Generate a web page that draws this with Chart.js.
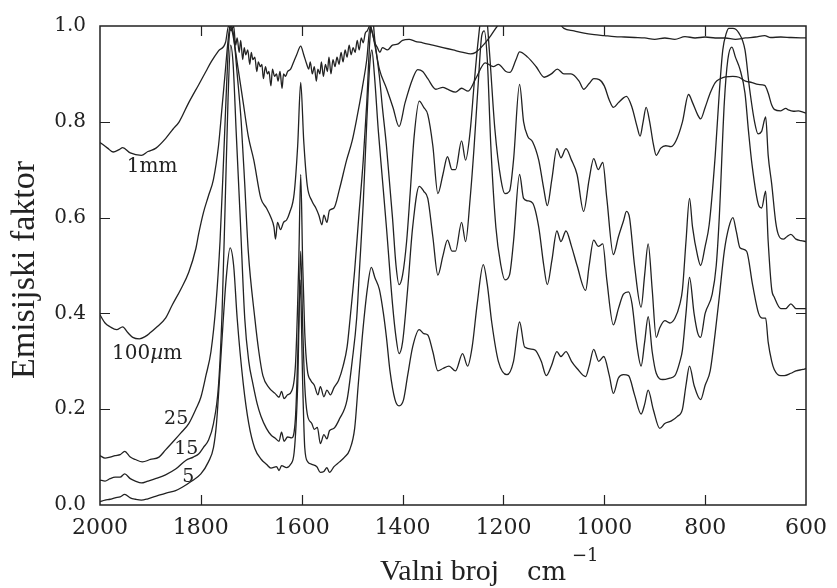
<!DOCTYPE html>
<html>
<head>
<meta charset="utf-8">
<script src="https://cdn.jsdelivr.net/npm/chart.js@4.4.1/dist/chart.umd.min.js"></script>
<style>
  body { margin: 0; background: #fff; }
  #wrap { width: 837px; height: 588px; }
</style>
</head>
<body>
<div id="wrap"><canvas id="myChart" width="837" height="588"></canvas></div>
<script>
// wavenumber (cm-1), emission factor
const curve1mm = [
	[2000,0.757],[1985,0.745],[1974,0.737],[1962,0.742],[1955,0.746],[1940,0.735],[1918,0.73],[1905,0.738],
	[1889,0.745],[1870,0.765],[1855,0.785],[1843,0.80],[1825,0.838],[1804,0.878],[1790,0.905],[1779,0.926],
	[1765,0.948],[1751,0.966],[1745,1.0],[1740,0.99],[1735,1.0],[1731,0.96],[1728,0.975],[1724,0.945],
	[1721,0.97],[1717,0.93],[1714,0.955],[1711,0.94],[1707,0.95],[1703,0.92],[1700,0.945],[1697,0.93],
	[1693,0.935],[1689,0.905],[1686,0.925],[1682,0.915],[1679,0.92],[1676,0.89],[1672,0.915],[1668,0.9],
	[1665,0.905],[1661,0.875],[1658,0.91],[1654,0.895],[1650,0.9],[1647,0.885],[1643,0.905],[1639,0.87],
	[1636,0.9],[1632,0.895],[1628,0.905],[1622,0.91],[1616,0.925],[1610,0.94],[1602,0.958],[1596,0.94],
	[1590,0.92],[1586,0.91],[1583,0.925],[1579,0.9],[1575,0.915],[1571,0.885],[1568,0.91],[1564,0.9],
	[1561,0.925],[1557,0.895],[1553,0.92],[1549,0.905],[1546,0.935],[1542,0.9],[1538,0.93],[1534,0.915],
	[1530,0.935],[1526,0.92],[1522,0.945],[1518,0.925],[1514,0.95],[1510,0.935],[1506,0.96],[1502,0.94],
	[1498,0.955],[1494,0.945],[1490,0.97],[1486,0.95],[1482,0.975],[1478,0.965],[1474,0.985],[1470,0.99],
	[1465,1.0],[1460,0.985],[1455,0.965],[1450,0.955],[1445,0.945],[1440,0.955],[1430,0.95],[1420,0.96],
	[1410,0.962],[1400,0.97],[1387,0.972],[1375,0.968],[1360,0.965],[1340,0.96],[1320,0.955],[1300,0.95],
	[1280,0.945],[1265,0.942],[1255,0.945],[1240,0.96],[1225,0.98],[1212,1.0],[1195,1.02],[1150,1.04],
	[1100,1.02],[1080,0.995],[1060,0.99],[1040,0.985],[1020,0.982],[1000,0.98],[980,0.978],[960,0.977],
	[940,0.976],[920,0.975],[900,0.972],[880,0.975],[860,0.972],[840,0.978],[820,0.975],[800,0.977],
	[780,0.975],[760,0.975],[740,0.972],[720,0.975],[700,0.977],[682,0.98],[670,0.976],[650,0.977],
	[630,0.976],[600,0.975]
];

const curve100um = [
	[2000,0.397],[1990,0.38],[1980,0.372],[1967,0.366],[1955,0.372],[1945,0.36],[1935,0.35],[1922,0.347],
	[1910,0.352],[1900,0.36],[1889,0.37],[1870,0.39],[1857,0.417],[1840,0.45],[1824,0.486],[1810,0.535],
	[1804,0.568],[1795,0.61],[1785,0.645],[1775,0.68],[1765,0.75],[1758,0.83],[1752,0.9],[1746,0.97],
	[1742,1.0],[1738,0.99],[1726,0.91],[1716,0.84],[1706,0.77],[1695,0.72],[1681,0.64],[1670,0.62],
	[1661,0.6],[1655,0.58],[1652,0.555],[1648,0.59],[1642,0.575],[1636,0.59],[1630,0.595],[1624,0.61],
	[1615,0.65],[1608,0.75],[1602,0.882],[1596,0.76],[1589,0.667],[1580,0.635],[1572,0.62],[1566,0.605],
	[1560,0.585],[1556,0.605],[1550,0.59],[1545,0.615],[1536,0.62],[1525,0.66],[1511,0.72],[1500,0.76],
	[1491,0.806],[1480,0.87],[1471,0.93],[1464,1.0],[1455,0.96],[1446,0.91],[1432,0.87],[1419,0.83],
	[1407,0.79],[1395,0.84],[1380,0.89],[1370,0.909],[1360,0.905],[1350,0.89],[1334,0.868],[1320,0.872],
	[1311,0.868],[1295,0.862],[1283,0.87],[1270,0.864],[1255,0.89],[1236,0.923],[1220,0.915],[1210,0.92],
	[1195,0.905],[1187,0.903],[1175,0.93],[1168,0.946],[1152,0.935],[1135,0.915],[1119,0.893],[1105,0.9],
	[1093,0.91],[1080,0.9],[1066,0.9],[1050,0.885],[1041,0.868],[1030,0.88],[1021,0.89],[1010,0.888],
	[1000,0.875],[990,0.845],[982,0.83],[972,0.84],[962,0.85],[956,0.853],[945,0.83],[935,0.79],
	[929,0.77],[923,0.8],[917,0.83],[910,0.8],[903,0.755],[897,0.73],[888,0.745],[878,0.75],
	[868,0.748],[858,0.76],[845,0.8],[833,0.857],[825,0.84],[815,0.815],[809,0.806],[800,0.83],
	[790,0.86],[780,0.882],[770,0.89],[760,0.894],[745,0.895],[733,0.893],[720,0.885],[707,0.882],
	[695,0.878],[682,0.876],[675,0.86],[668,0.835],[663,0.826],[650,0.823],[640,0.828],[635,0.825],
	[625,0.822],[615,0.823],[606,0.82],[600,0.818]
];

const curve25 = [
	[2000,0.103],[1990,0.098],[1980,0.1],[1970,0.103],[1960,0.105],[1951,0.112],[1940,0.1],[1930,0.095],
	[1916,0.09],[1900,0.095],[1883,0.1],[1870,0.115],[1857,0.13],[1840,0.15],[1824,0.17],[1810,0.2],
	[1800,0.225],[1790,0.27],[1780,0.32],[1770,0.42],[1762,0.55],[1755,0.72],[1750,0.85],[1745,0.96],
	[1740,1.0],[1735,0.98],[1728,0.9],[1720,0.8],[1713,0.67],[1706,0.53],[1693,0.39],[1685,0.32],
	[1677,0.27],[1665,0.245],[1653,0.233],[1645,0.225],[1640,0.237],[1635,0.222],[1628,0.23],[1620,0.238],
	[1612,0.3],[1606,0.5],[1602,0.69],[1598,0.5],[1594,0.36],[1589,0.283],[1582,0.26],[1575,0.25],
	[1568,0.23],[1563,0.247],[1556,0.226],[1550,0.24],[1543,0.23],[1536,0.245],[1527,0.26],[1518,0.29],
	[1510,0.33],[1504,0.39],[1495,0.49],[1487,0.6],[1478,0.72],[1471,0.84],[1465,0.97],[1460,1.02],
	[1455,0.97],[1446,0.895],[1440,0.83],[1432,0.75],[1420,0.6],[1413,0.5],[1407,0.46],[1400,0.48],
	[1392,0.55],[1385,0.65],[1377,0.77],[1367,0.843],[1358,0.83],[1350,0.815],[1340,0.75],[1330,0.65],
	[1320,0.69],[1311,0.727],[1302,0.70],[1295,0.70],[1283,0.76],[1275,0.72],[1266,0.78],[1258,0.88],
	[1250,0.97],[1242,1.03],[1235,1.03],[1228,0.95],[1217,0.785],[1205,0.68],[1197,0.65],[1188,0.655],
	[1180,0.72],[1168,0.878],[1160,0.8],[1152,0.77],[1142,0.758],[1130,0.72],[1120,0.66],[1113,0.625],
	[1104,0.68],[1094,0.744],[1086,0.725],[1076,0.744],[1065,0.72],[1054,0.69],[1041,0.613],[1030,0.68],
	[1021,0.723],[1012,0.7],[1003,0.715],[995,0.64],[982,0.523],[972,0.56],[962,0.593],[956,0.613],
	[950,0.6],[940,0.5],[927,0.413],[920,0.48],[913,0.545],[905,0.45],[897,0.35],[890,0.37],
	[880,0.385],[870,0.38],[860,0.39],[850,0.42],[845,0.45],[838,0.55],[831,0.64],[825,0.58],
	[815,0.52],[809,0.50],[800,0.54],[792,0.585],[780,0.73],[772,0.86],[765,0.95],[758,0.985],
	[753,0.995],[745,0.995],[733,0.985],[721,0.95],[712,0.87],[702,0.8],[695,0.775],[688,0.78],
	[680,0.81],[675,0.73],[668,0.67],[660,0.59],[655,0.565],[645,0.555],[638,0.56],[630,0.565],
	[620,0.555],[610,0.552],[600,0.55]
];

const curve15 = [
	[2000,0.052],[1990,0.05],[1980,0.055],[1970,0.058],[1960,0.058],[1951,0.065],[1940,0.055],[1930,0.05],
	[1918,0.046],[1905,0.05],[1890,0.055],[1870,0.063],[1850,0.075],[1830,0.093],[1815,0.1],[1804,0.107],
	[1795,0.12],[1785,0.135],[1775,0.17],[1765,0.25],[1758,0.4],[1752,0.62],[1746,0.85],[1741,0.96],
	[1736,0.92],[1730,0.78],[1722,0.6],[1713,0.39],[1705,0.3],[1697,0.254],[1688,0.21],[1681,0.186],
	[1670,0.16],[1660,0.145],[1653,0.14],[1645,0.133],[1640,0.152],[1635,0.133],[1628,0.142],[1620,0.14],
	[1612,0.19],[1606,0.38],[1602,0.53],[1598,0.37],[1594,0.25],[1589,0.19],[1580,0.17],[1575,0.158],
	[1569,0.162],[1563,0.128],[1556,0.147],[1550,0.138],[1545,0.155],[1536,0.16],[1525,0.18],[1510,0.22],
	[1500,0.3],[1491,0.39],[1485,0.5],[1478,0.63],[1471,0.8],[1465,0.92],[1461,0.95],[1456,0.9],
	[1448,0.78],[1440,0.68],[1432,0.58],[1420,0.42],[1413,0.35],[1407,0.316],[1400,0.34],[1390,0.45],
	[1380,0.58],[1367,0.665],[1358,0.655],[1350,0.64],[1340,0.56],[1330,0.48],[1320,0.52],[1311,0.553],
	[1302,0.53],[1295,0.53],[1283,0.59],[1275,0.55],[1266,0.64],[1258,0.75],[1250,0.88],[1243,0.98],
	[1238,0.99],[1232,0.93],[1225,0.75],[1215,0.58],[1205,0.5],[1197,0.47],[1188,0.48],[1180,0.55],
	[1168,0.69],[1160,0.64],[1152,0.635],[1142,0.63],[1130,0.58],[1120,0.5],[1113,0.46],[1104,0.51],
	[1094,0.572],[1086,0.55],[1076,0.572],[1065,0.54],[1054,0.5],[1037,0.448],[1030,0.5],[1021,0.553],
	[1012,0.54],[1003,0.545],[995,0.47],[982,0.376],[972,0.41],[962,0.44],[952,0.445],[945,0.42],
	[935,0.33],[927,0.29],[920,0.34],[913,0.393],[905,0.32],[897,0.275],[884,0.262],[870,0.265],
	[860,0.27],[850,0.3],[845,0.324],[838,0.4],[831,0.475],[822,0.4],[815,0.36],[809,0.35],
	[800,0.4],[786,0.44],[778,0.5],[772,0.6],[762,0.84],[755,0.93],[747,0.956],[740,0.935],
	[731,0.91],[721,0.86],[714,0.78],[707,0.71],[694,0.626],[688,0.62],[680,0.655],[675,0.55],
	[668,0.45],[663,0.434],[650,0.41],[640,0.41],[630,0.42],[620,0.41],[610,0.41],[600,0.41]
];

const curve5 = [
	[2000,0.007],[1990,0.01],[1980,0.012],[1970,0.015],[1960,0.017],[1951,0.022],[1940,0.015],[1930,0.012],
	[1918,0.01],[1905,0.013],[1890,0.018],[1869,0.025],[1850,0.03],[1837,0.037],[1818,0.05],[1800,0.065],
	[1785,0.09],[1775,0.12],[1769,0.17],[1762,0.28],[1756,0.38],[1750,0.47],[1742,0.537],[1735,0.5],
	[1728,0.39],[1716,0.254],[1705,0.17],[1693,0.118],[1680,0.095],[1670,0.085],[1661,0.077],[1650,0.08],
	[1645,0.072],[1640,0.082],[1630,0.078],[1622,0.085],[1615,0.11],[1608,0.25],[1603,0.47],[1598,0.25],
	[1594,0.12],[1588,0.09],[1580,0.085],[1570,0.08],[1563,0.068],[1556,0.07],[1550,0.078],[1545,0.068],
	[1536,0.08],[1525,0.09],[1515,0.1],[1505,0.115],[1495,0.16],[1488,0.25],[1480,0.35],[1470,0.45],
	[1462,0.496],[1455,0.475],[1446,0.45],[1438,0.4],[1432,0.35],[1425,0.28],[1415,0.22],[1407,0.207],
	[1398,0.22],[1390,0.27],[1380,0.33],[1367,0.366],[1358,0.358],[1350,0.355],[1340,0.32],[1330,0.28],
	[1320,0.285],[1308,0.29],[1295,0.28],[1281,0.316],[1271,0.29],[1262,0.33],[1252,0.42],[1240,0.502],
	[1232,0.46],[1223,0.38],[1210,0.3],[1193,0.272],[1180,0.3],[1168,0.382],[1158,0.33],[1138,0.324],
	[1125,0.3],[1115,0.27],[1105,0.29],[1094,0.32],[1086,0.31],[1076,0.32],[1065,0.3],[1054,0.285],
	[1037,0.268],[1030,0.29],[1021,0.325],[1011,0.3],[1001,0.31],[990,0.27],[982,0.233],[972,0.265],
	[962,0.272],[952,0.27],[940,0.23],[927,0.19],[920,0.21],[913,0.24],[903,0.2],[890,0.16],
	[880,0.17],[868,0.175],[855,0.185],[845,0.2],[838,0.25],[831,0.29],[822,0.25],[809,0.22],
	[800,0.25],[790,0.28],[780,0.36],[772,0.434],[762,0.53],[753,0.58],[745,0.6],[738,0.57],
	[731,0.537],[718,0.53],[706,0.46],[694,0.4],[686,0.39],[680,0.39],[675,0.34],[668,0.3],
	[663,0.283],[650,0.27],[643,0.27],[630,0.275],[620,0.28],[606,0.283],[600,0.285]
];

const seriesNames = ['1mm', '100µm', '25', '15', '5'];
const seriesCurves = [curve1mm, curve100um, curve25, curve15, curve5];

const xTicks = [2000, 1800, 1600, 1400, 1200, 1000, 800, 600];
const yTicks = [0.0, 0.2, 0.4, 0.6, 0.8, 1.0];

const ink = '#222';

// inward ticks on all four sides, the box, curve labels and axis titles
const framePlugin = {
	id: 'frame',
	afterDraw(chart) {
		const ctx = chart.ctx;
		const a = chart.chartArea;
		const xs = chart.scales.x;
		const ys = chart.scales.y;
		ctx.save();
		ctx.strokeStyle = ink;
		ctx.lineWidth = 1.5;
		ctx.strokeRect(a.left, a.top, a.right - a.left, a.bottom - a.top);

		ctx.lineWidth = 1.2;
		ctx.beginPath();
		xTicks.slice(1, -1).forEach(v => {
			const px = Math.round(xs.getPixelForValue(v)) + 0.5;
			ctx.moveTo(px, a.bottom); ctx.lineTo(px, a.bottom - 10);
			ctx.moveTo(px, a.top); ctx.lineTo(px, a.top + 10);
		});
		yTicks.slice(1, -1).forEach(v => {
			const py = Math.round(ys.getPixelForValue(v)) + 0.5;
			ctx.moveTo(a.left, py); ctx.lineTo(a.left + 10, py);
			ctx.moveTo(a.right, py); ctx.lineTo(a.right - 10, py);
		});
		ctx.stroke();

		// labels beside the curves (left edge / baseline in data units)
		const labelPos = [[1947, 0.696], [1976, 0.304], [1873, 0.169], [1853, 0.107], [1837, 0.048]];
		ctx.fillStyle = ink;
		ctx.textBaseline = 'alphabetic';
		ctx.textAlign = 'left';
		seriesNames.forEach((name, i) => {
			let px = xs.getPixelForValue(labelPos[i][0]);
			const py = ys.getPixelForValue(labelPos[i][1]);
			if (name === '100µm') {
				ctx.font = '20px "DejaVu Serif"';
				ctx.fillText('100', px, py);
				px += ctx.measureText('100').width;
				ctx.font = 'italic 20px "DejaVu Serif"';
				ctx.fillText('µ', px, py);
				px += ctx.measureText('µ').width;
				ctx.font = '20px "DejaVu Serif"';
				ctx.fillText('m', px, py);
			} else {
				ctx.font = (name === '1mm' ? '20px' : '19px') + ' "DejaVu Serif"';
				ctx.fillText(name, px, py);
			}
		});

		// x title
		ctx.font = '30px "Liberation Serif"';
		ctx.fillText('Valni broj', 380, 580);
		ctx.font = '26px "DejaVu Serif"';
		ctx.fillText('cm', 527, 580);
		ctx.font = '18px "DejaVu Serif"';
		ctx.fillText('\u22121', 572, 561);

		// y title
		ctx.translate(25, 270);
		ctx.rotate(-Math.PI / 2);
		ctx.textAlign = 'center';
		ctx.textBaseline = 'middle';
		ctx.font = '34px "Liberation Serif"';
		ctx.fillText('Emisijski faktor', 0, 0);
		ctx.restore();
	}
};

const myChart = document.getElementById('myChart');

let spectrumChart = new Chart(myChart, {
	type: 'line',
	data: {
		datasets: seriesCurves.map((c, i) => ({
			label: seriesNames[i],
			data: c.map(p => ({x: p[0], y: p[1]})),
			borderColor: ink,
			borderWidth: 1.3,
			pointRadius: 0,
			fill: false,
			cubicInterpolationMode: 'monotone'
		}))
	},
	options: {
		responsive: false,
		animation: false,
		devicePixelRatio: 1,
		layout: {padding: {top: 21, right: 22, left: 0, bottom: 0}},
		plugins: {
			legend: {display: false},
			tooltip: {enabled: false}
		},
		scales: {
			x: {
				type: 'linear',
				reverse: true,
				min: 600,
				max: 2000,
				grid: {display: false, drawTicks: false},
				border: {display: false},
				ticks: {
					stepSize: 200,
					padding: 10,
					color: ink,
					font: {family: 'DejaVu Serif', size: 22},
					maxRotation: 0,
					callback: v => String(v)
				},
				afterFit: s => { s.height = 83; }
			},
			y: {
				min: 0,
				max: 1,
				grid: {display: false, drawTicks: false},
				border: {display: false},
				ticks: {
					stepSize: 0.2,
					padding: 14,
					color: ink,
					font: {family: 'DejaVu Serif', size: 20},
					callback: v => v.toFixed(1)
				},
				afterFit: s => { s.width = 100; }
			}
		}
	},
	plugins: [framePlugin]
});
</script>
</body>
</html>
